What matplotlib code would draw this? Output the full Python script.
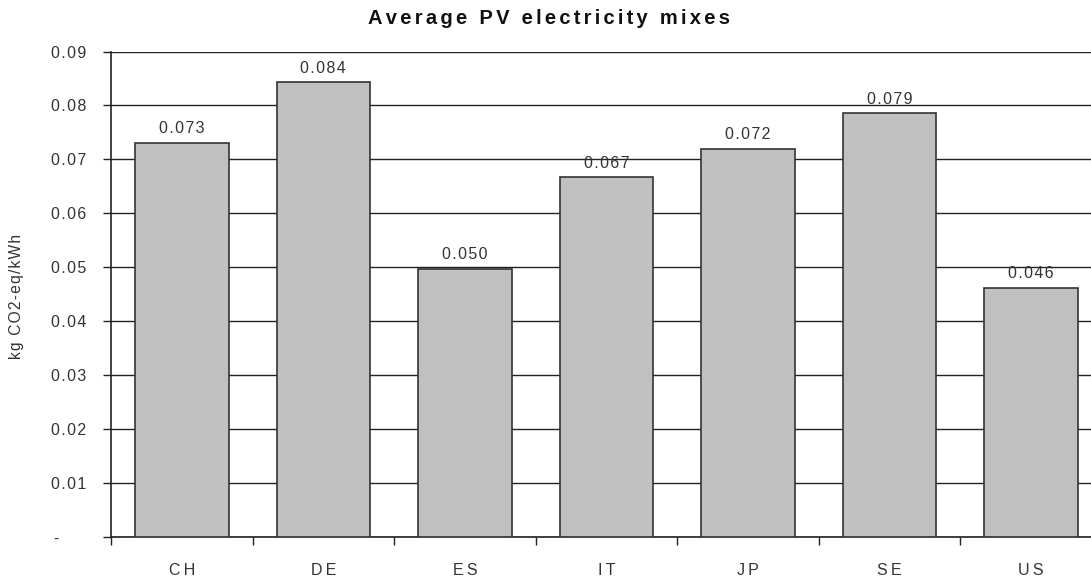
import matplotlib
matplotlib.use("Agg")
import matplotlib.pyplot as plt
from matplotlib.ticker import FixedLocator, FuncFormatter

categories = ["CH", "DE", "ES", "IT", "JP", "SE", "US"]
values = [0.0731, 0.0843, 0.0497, 0.0667, 0.0720, 0.0786, 0.0462]
yticks = [0.0, 0.01, 0.02, 0.03, 0.04, 0.05, 0.06, 0.07, 0.08, 0.09]

FONT = ["Liberation Sans", "DejaVu Sans"]
HS = "\u200a"
TS = "\u2009"

def spaced(s, sep=HS):
    return sep.join(s)

def ytick_fmt(v, p):
    if abs(v) < 1e-12:
        return "-" + "\u2007" * 3
    return spaced(f"{v:.2f}")

plt.rcParams["font.family"] = FONT

fig = plt.figure(figsize=(10.91, 5.77), dpi=100)
ax = fig.add_axes([111 / 1091, 40 / 577, 991 / 1091, 485.5 / 577])

x = list(range(len(categories)))
ax.bar(x, values, width=0.66, color="#c0c0c0", edgecolor="#333333", linewidth=1.2, zorder=3)

for xi, v in zip(x, values):
    ax.text(xi, v + 0.0012, spaced(f"{v:.3f}"), ha="center", va="bottom", fontsize=11.5, color="#333333", zorder=4)

ax.set_xlim(-0.5, len(categories) - 0.5)
ax.set_ylim(0, 0.09)

ax.yaxis.set_major_locator(FixedLocator(yticks))
ax.yaxis.set_major_formatter(FuncFormatter(ytick_fmt))
ax.grid(axis="y", color="#222222", linewidth=1.0, zorder=0)

ax.set_xticks([i - 0.5 for i in range(len(categories) + 1)])
ax.set_xticklabels([])
ax.set_xticks(x, minor=True)
ax.set_xticklabels([spaced(c, TS) for c in categories], minor=True)
ax.tick_params(axis="x", which="major", length=6, width=1.0, color="#222222", direction="out")
ax.tick_params(axis="x", which="minor", length=0, pad=19, labelsize=11.5, labelcolor="#333333")
ax.tick_params(axis="y", length=6, width=1.0, color="#222222", direction="out", pad=12, labelsize=11.5, labelcolor="#333333")

for s in ["top", "right"]:
    ax.spines[s].set_visible(False)
for s in ["left", "bottom"]:
    ax.spines[s].set_color("#222222")
    ax.spines[s].set_linewidth(1.2)

fig.text(17 / 1091, 1 - 296 / 577, spaced("kg CO2-eq/kWh"), rotation=90, ha="center", va="center",
         fontsize=11.2, color="#333333")
fig.text(549.5 / 1091, 1 - 19 / 577, spaced("Average PV electricity mixes", HS + HS), ha="center", va="center",
         fontsize=14.5, fontweight="bold", color="#111111")

fig.savefig("out.png", dpi=100)
